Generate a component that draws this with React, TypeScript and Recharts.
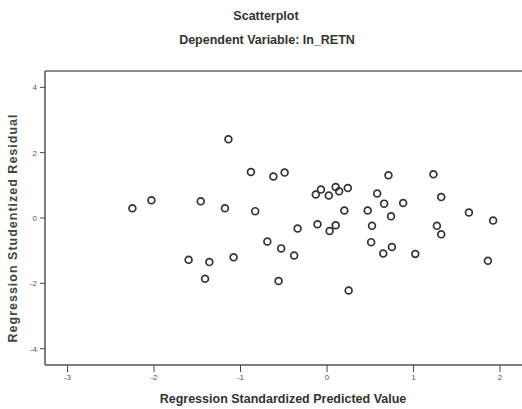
import { ReferenceLine, Scatter, ScatterChart, XAxis, YAxis } from 'recharts';

// predicted (standardized) vs studentized residual
const predicted = [
  -2.25, -2.03, -1.6, -1.46, -1.41, -1.36, -1.18, -1.14, -1.08, -0.88, -0.83, -0.69,
  -0.62, -0.56, -0.53, -0.49, -0.38, -0.34, -0.13, -0.11, -0.07, 0.02, 0.03, 0.1,
  0.1, 0.14, 0.2, 0.24, 0.25, 0.47, 0.51, 0.52, 0.58, 0.65, 0.66, 0.71, 0.74, 0.75,
  0.88, 1.02, 1.23, 1.27, 1.32, 1.32, 1.64, 1.86, 1.92,
];
const residual = [
  0.3, 0.54, -1.28, 0.51, -1.86, -1.35, 0.3, 2.41, -1.2, 1.41, 0.21, -0.72,
  1.27, -1.93, -0.93, 1.39, -1.15, -0.32, 0.72, -0.19, 0.87, 0.69, -0.4, 0.95,
  -0.22, 0.82, 0.23, 0.92, -2.22, 0.23, -0.74, -0.24, 0.75, -1.09, 0.44, 1.31, 0.05, -0.89,
  0.46, -1.1, 1.34, -0.24, 0.64, -0.5, 0.17, -1.31, -0.08,
];
const xTicks = [-3, -2, -1, 0, 1, 2];
const yTicks = [-4, -2, 0, 2, 4];

const points = predicted.map((x, i) => ({ x, y: residual[i] }));

const X_DOMAIN: [number, number] = [-3.26, 2.3];
const Y_DOMAIN: [number, number] = [-4.5, 4.5];
const font = '"Liberation Sans", Arial, sans-serif';

const OpenCircle = (props: any) => (
  <circle cx={props.cx} cy={props.cy} r={3.4} fill="none" stroke="#333" strokeWidth={1.7} />
);

export default function App() {
  return (
    <div style={{ position: 'absolute', left: 0, top: 0, width: 522, height: 409, overflow: 'hidden', background: '#fff', fontFamily: font, color: '#333' }}>
      <div style={{ position: 'absolute', left: 0, width: 532, top: 9, textAlign: 'center', fontSize: 12.5, fontWeight: 'bold' }}>
        Scatterplot
      </div>
      <div style={{ position: 'absolute', left: 0, width: 534, top: 33, textAlign: 'center', fontSize: 12.5, fontWeight: 'bold' }}>
        Dependent Variable: In_RETN
      </div>
      <div style={{ position: 'absolute', left: 45, width: 476, top: 392, textAlign: 'center', fontSize: 12.5, fontWeight: 'bold' }}>
        Regression Standardized Predicted Value
      </div>
      <div
        style={{
          position: 'absolute', left: 13, top: 228, width: 280, textAlign: 'center', fontSize: 12.5, fontWeight: 'bold',
          letterSpacing: 1, transform: 'translate(-50%, -50%) rotate(-90deg)', lineHeight: '14px', color: '#444',
        }}
      >
        Regression Studentized Residual
      </div>
      <ScatterChart width={526} height={409} margin={{ top: 71, right: 0, bottom: 0, left: 0 }} style={{ position: 'absolute', left: 0, top: 0 }}>
        <ReferenceLine y={Y_DOMAIN[1]} stroke="#666" strokeWidth={1.5} />
        <XAxis
          type="number"
          dataKey="x"
          domain={X_DOMAIN}
          ticks={xTicks}
          allowDataOverflow
          height={44}
          axisLine={{ stroke: '#555', strokeWidth: 1.5 }}
          tickSize={7}
          tickMargin={2}
          tickLine={{ stroke: '#444' }}
          tick={{ fontSize: 8, fill: '#555', fontFamily: font }}
        />
        <YAxis
          type="number"
          dataKey="y"
          domain={Y_DOMAIN}
          ticks={yTicks}
          allowDataOverflow
          width={45}
          axisLine={{ stroke: '#555', strokeWidth: 1.5 }}
          tickSize={5}
          tickMargin={3}
          tickLine={{ stroke: '#444' }}
          tick={{ fontSize: 8, fill: '#555', fontFamily: font }}
        />
        <Scatter data={points} shape={OpenCircle} isAnimationActive={false} />
      </ScatterChart>
    </div>
  );
}
